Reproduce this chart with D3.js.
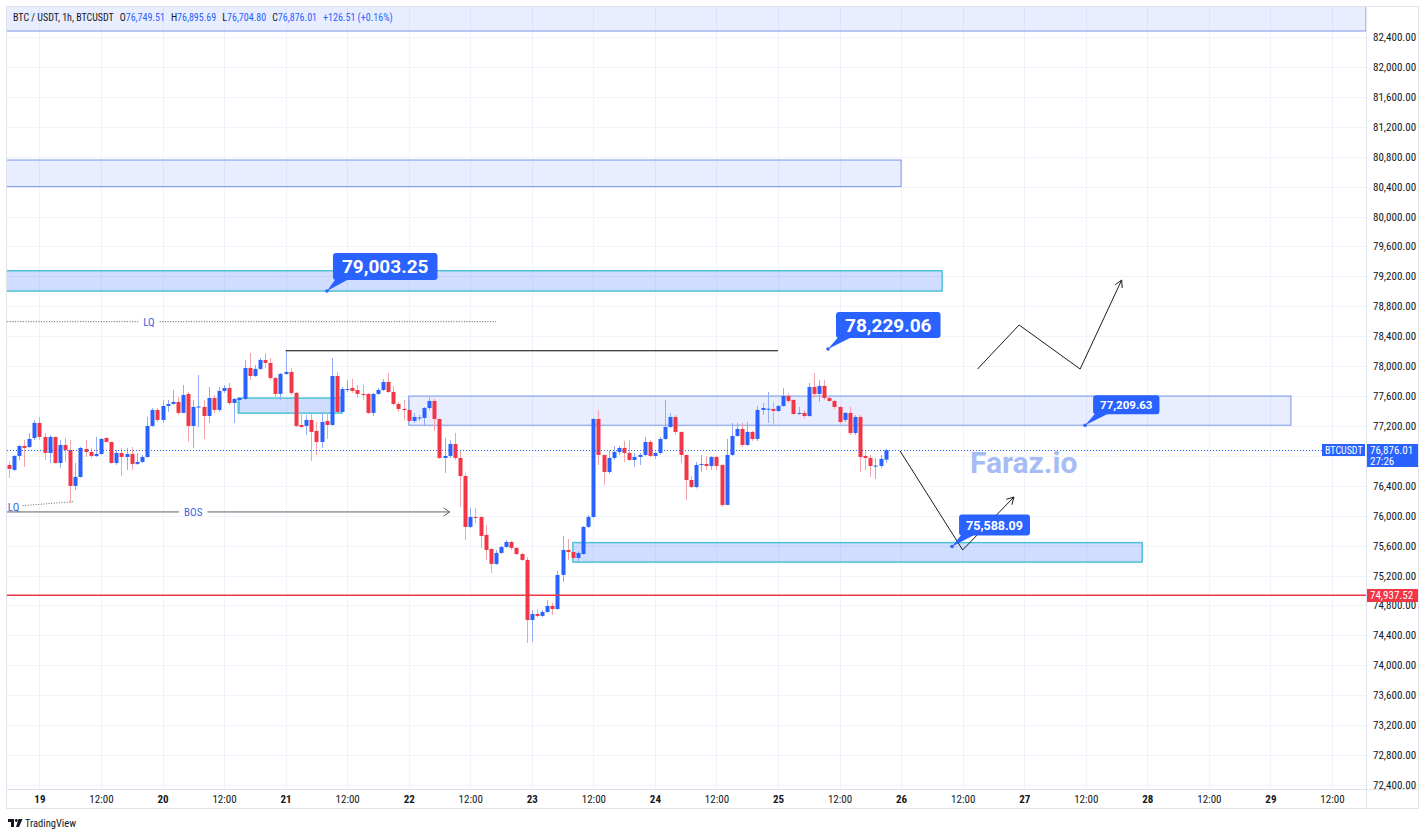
<!DOCTYPE html>
<html>
<head>
<meta charset="utf-8">
<script src="https://cdn.jsdelivr.net/npm/d3@7"></script>
<style>
  body { margin: 0; background: #fff; }
  svg { display: block; }
  text { font-family: "Liberation Sans Narrow", "Roboto Condensed", Roboto, sans-serif; fill: #131722; }
  .bold { font-family: Roboto, "Noto Sans", sans-serif; font-weight: 700; }
</style>
</head>
<body>
<svg id="chart" width="1428" height="837"></svg>
<script>
const PANE = { left: 7, right: 1366, top: 7, bottom: 789 };
const AXIS_RIGHT = 1419;
const AXIS_BOTTOM = 809;

const HOUR = 3600e3;
const at = (day, hour = 0, min = 0) => Date.UTC(2025, 3, day, hour, min);

// visible window
const VIEW_FROM = at(18, 17, 41);
const VIEW_TO = at(29, 18, 38);
const PRICE_MIN = 72346;
const PRICE_MAX = 82801;

// 1h candles, first one opens 18th 18:00
const FIRST_CANDLE = at(18, 18);
const opens = [
  76678, 76612, 76799, 76932, 76919, 77039, 77240, 77053, 76839, 77053, 76705, 76946,
  76879, 76398, 76518, 76892, 76852, 76799, 76825, 77039, 76986, 76705, 76839, 76785,
  76825, 76692, 76719, 76785, 77200, 77414, 77280, 77467, 77494, 77521, 77374, 77628,
  77200, 77454, 77454, 77333, 77574, 77414, 77668, 77708, 77507, 77547, 77561, 77975,
  77868, 77962, 78082, 78042, 77842, 77628, 77895, 77922, 77641, 77213, 77200, 77280,
  77133, 76986, 77267, 77213, 77868, 77387, 77681, 77708, 77681, 77628, 77628, 77374,
  77628, 77681, 77788, 77654, 77494, 77427, 77414, 77267, 77307, 77307, 77440, 77534,
  77293, 76772, 76799, 76959, 76772, 76531, 75850, 75983, 75983, 75743, 75555, 75355,
  75502, 75582, 75649, 75569, 75488, 75408, 74606, 74686, 74660, 74713, 74793, 74753,
  75208, 75542, 75515, 75435, 75488, 75850, 75983, 77293, 76812, 76585, 76772, 76852,
  76906, 76839, 76745, 76785, 76812, 76986, 76799, 76839, 77026, 77186, 77320, 77120,
  76812, 76478, 76384, 76678, 76692, 76665, 76785, 76678, 76144, 76812, 77066, 77160,
  76946, 77120, 77026, 77414, 77427, 77427, 77400, 77467, 77601, 77547, 77360, 77374,
  77333, 77721, 77628, 77735, 77574, 77534, 77454, 77280, 77374, 77106, 77320, 76799,
  76772, 76665, 76665, 76749.51
];
const highs = [
  76719, 76812, 76946, 77013, 77106, 77280, 77320, 77106, 77079, 77058, 77013, 77039,
  77013, 76705, 76919, 77013, 76906, 77053, 77039, 77053, 76990, 76879, 76906, 76906,
  76919, 76839, 76812, 77320, 77440, 77440, 77547, 77547, 77681, 77588, 77748, 77654,
  77547, 77882, 77547, 77721, 77614, 77721, 77748, 77775, 77574, 77588, 78082, 78176,
  78015, 78109, 78176, 78109, 77855, 77908, 78205, 77975, 77654, 77374, 77347, 77360,
  77253, 77387, 77374, 78109, 77922, 77721, 77815, 77828, 77748, 77748, 77641, 77641,
  77708, 77828, 77908, 77735, 77521, 77547, 77547, 77374, 77347, 77454, 77588, 77561,
  77300, 77039, 77013, 77106, 76879, 76572, 76104, 76104, 75990, 75876, 75560, 75542,
  75595, 75676, 75662, 75582, 75502, 75448, 74740, 74753, 74740, 74874, 74834, 75261,
  75729, 75689, 75636, 75529, 75863, 76010, 77307, 77414, 76815, 76879, 76932, 76932,
  76999, 77013, 76839, 76839, 77053, 77013, 76852, 77053, 77547, 77374, 77347, 77125,
  76815, 76531, 76719, 76812, 76799, 76799, 76799, 76685, 77026, 77240, 77240, 77240,
  77253, 77133, 77467, 77507, 77654, 77521, 77481, 77708, 77641, 77561, 77454, 77414,
  77775, 77908, 77815, 77815, 77588, 77547, 77467, 77387, 77454, 77347, 77347, 76879,
  76812, 76772, 76812, 76895.69
];
const lows = [
  76505, 76598, 76745, 76652, 76906, 77013, 77013, 76745, 76705, 76700, 76638, 76719,
  76170, 76344, 76510, 76785, 76772, 76785, 76812, 76980, 76698, 76678, 76531, 76612,
  76612, 76678, 76705, 76772, 77186, 77253, 77240, 77387, 77481, 77347, 77370, 76986,
  76906, 77186, 77026, 77240, 77374, 77387, 77641, 77481, 77240, 77374, 77547, 77815,
  77855, 77948, 77975, 77815, 77547, 77547, 77882, 77614, 77186, 77173, 77079, 76732,
  76812, 76906, 77026, 77200, 77374, 77374, 77654, 77641, 77574, 77547, 77360, 77333,
  77614, 77668, 77641, 77481, 77387, 77280, 77253, 77240, 77267, 77200, 77414, 77133,
  76759, 76572, 76772, 76745, 76117, 75676, 75836, 75903, 75569, 75408, 75235, 75342,
  75488, 75569, 75542, 75475, 75395, 74299, 74312, 74646, 74646, 74700, 74673, 74740,
  75114, 75408, 75425, 75382, 75475, 75836, 75970, 76678, 76411, 76558, 76745, 76812,
  76719, 76732, 76652, 76678, 76799, 76785, 76759, 76812, 77013, 77173, 77079, 76705,
  76210, 76371, 76365, 76585, 76612, 76612, 76612, 76117, 76140, 76799, 77053, 76919,
  76932, 76999, 76999, 77347, 77240, 77200, 77387, 77454, 77507, 77347, 77347, 77307,
  77320, 77574, 77521, 77547, 77521, 77427, 77227, 77253, 77079, 77079, 76585, 76612,
  76518, 76491, 76638, 76704.80
];
const closes = [
  76625, 76799, 76932, 76906, 77026, 77240, 77053, 76839, 77053, 76705, 76946, 76879,
  76398, 76518, 76906, 76852, 76799, 76825, 77026, 76986, 76705, 76839, 76785, 76825,
  76692, 76719, 76785, 77200, 77414, 77280, 77467, 77494, 77521, 77374, 77614, 77200,
  77454, 77460, 77333, 77574, 77414, 77668, 77708, 77507, 77561, 77574, 77975, 77868,
  77962, 78082, 78042, 77842, 77628, 77895, 77922, 77641, 77200, 77186, 77280, 77120,
  76986, 77253, 77213, 77868, 77387, 77694, 77694, 77668, 77628, 77614, 77374, 77628,
  77681, 77788, 77654, 77494, 77427, 77414, 77267, 77320, 77313, 77440, 77534, 77293,
  76772, 76799, 76959, 76772, 76531, 75850, 75983, 75970, 75729, 75542, 75355, 75502,
  75582, 75649, 75569, 75488, 75408, 74606, 74686, 74660, 74713, 74793, 74753, 75208,
  75542, 75515, 75435, 75502, 75850, 75983, 77293, 76812, 76585, 76772, 76852, 76906,
  76839, 76745, 76785, 76812, 76986, 76799, 76839, 77026, 77186, 77320, 77120, 76812,
  76478, 76384, 76678, 76692, 76665, 76785, 76665, 76144, 76812, 77066, 77160, 76946,
  77120, 77026, 77414, 77440, 77430, 77400, 77467, 77601, 77534, 77360, 77374, 77333,
  77721, 77628, 77735, 77574, 77534, 77454, 77253, 77374, 77106, 77320, 76785, 76772,
  76665, 76670, 76759, 76876.01
];

// legend values shown in the header
const LAST_CHANGE = 126.51;
const LAST_CHANGE_PCT = 0.0016;

// axis ticks
const priceTicks = d3.range(72400, 82401, 400);
const timeTicks = d3.utcHour.every(12).range(at(19), at(29, 13));
const HALF_DAY_LABEL = "12:00";

// drawings on the chart
const LAST_PRICE = 76876.01;
const LAST_COUNTDOWN = "27:26";
const RED_LEVEL = 74937.52;
const zones = [
  { from: at(18), to: VIEW_TO, top: 83000, bottom: 82480, kind: "plain" },
  { from: at(18), to: at(26), top: 80755, bottom: 80400, kind: "plain" },
  { from: at(18), to: at(26, 8), top: 79275, bottom: 79003.25, kind: "cyan" },
  { from: at(20, 14, 45), to: at(21, 11), top: 77572, bottom: 77371, kind: "cyan" },
  { from: at(22), to: at(29, 4), top: 77600, bottom: 77209.63, kind: "plain" },
  { from: at(23, 8), to: at(27, 23), top: 75640, bottom: 75380, kind: "cyan" }
];
const callouts = [
  { t: at(21, 8, 4), price: 79003.25, text: "79,003.25", size: 19, dx: 6, dy: -38, h: 27 },
  { t: at(25, 9, 45), price: 78229.06, text: "78,229.06", size: 19, dx: 8, dy: -37, h: 26 },
  { t: at(27, 11, 52), price: 77209.63, text: "77,209.63", size: 11.5, dx: 8, dy: -30, h: 19 },
  { t: at(26, 9, 56), price: 75588.09, text: "75,588.09", size: 12.5, dx: 7, dy: -32, h: 21 }
];
const upperLQ = { from: at(18), to: at(22, 17), price: 78594, label: "LQ", labelAt: at(19, 21, 22) };
const bos = { from: at(18), to: at(22, 8), price: 76050, label: "BOS", labelAt: at(20, 6) };
const lowerLQ = { label: "LQ", labelAt: at(18, 17, 50), labelPrice: 76117,
  line: [[at(18, 20, 44), 76134], [at(19, 6, 37), 76188]] };
const swingHigh = { from: at(21), to: at(25), price: 78205 };
const pathDown = [[at(25, 23, 48), 76865], [at(26, 12), 75542], [at(26, 22), 76250]];
const pathUp = [[at(26, 14, 54), 77961], [at(26, 23), 78550], [at(27, 10, 54), 77961], [at(27, 19), 79151]];
const watermark = { text: "Faraz.io", t: at(26, 23, 54), price: 76571 };

const BLUE = "#2962ff";
const RED = "#f23645";

const svg = d3.select("#chart");
const x = d3.scaleUtc().domain([VIEW_FROM, VIEW_TO]).range([PANE.left, PANE.right]);
const y = d3.scaleLinear().domain([PRICE_MIN, PRICE_MAX]).range([PANE.bottom, PANE.top]);

svg.append("defs").append("clipPath").attr("id", "pane")
  .append("rect")
  .attr("x", PANE.left).attr("y", PANE.top)
  .attr("width", PANE.right - PANE.left).attr("height", PANE.bottom - PANE.top);

// grid
const grid = svg.append("g").attr("stroke", "#f0f3fa").attr("shape-rendering", "crispEdges");
grid.selectAll("line.h").data(priceTicks).join("line").attr("class", "h")
  .attr("x1", PANE.left).attr("x2", PANE.right)
  .attr("y1", (d) => Math.round(y(d)) + 0.5).attr("y2", (d) => Math.round(y(d)) + 0.5);
grid.selectAll("line.v").data(timeTicks).join("line").attr("class", "v")
  .attr("y1", PANE.top).attr("y2", PANE.bottom)
  .attr("x1", (d) => Math.round(x(d)) + 0.5).attr("x2", (d) => Math.round(x(d)) + 0.5);

const pane = svg.append("g").attr("clip-path", "url(#pane)");

// zones
pane.selectAll("rect.zone").data(zones).join("rect").attr("class", "zone")
  .attr("x", (d) => x(d.from)).attr("width", (d) => x(d.to) - x(d.from))
  .attr("y", (d) => y(d.top)).attr("height", (d) => y(d.bottom) - y(d.top))
  .attr("fill", (d) => (d.kind === "cyan" ? "rgba(41,98,255,0.22)" : "rgba(41,98,255,0.11)"))
  .attr("stroke", (d) => (d.kind === "cyan" ? "#4cc4d6" : "#7a98e6"))
  .attr("stroke-width", (d) => (d.kind === "cyan" ? 1.5 : 1));

// candles
const candles = opens.map((o, i) => ({
  t: FIRST_CANDLE + i * HOUR, o, h: highs[i], l: lows[i], c: closes[i]
}));
const isUp = (d) => d.c >= d.o;
const cx = (d) => Math.round(x(d.t));

const candleG = pane.append("g");
candleG.selectAll("line").data(candles).join("line")
  .attr("x1", (d) => cx(d) + 0.5).attr("x2", (d) => cx(d) + 0.5)
  .attr("y1", (d) => y(d.h)).attr("y2", (d) => y(d.l))
  .attr("stroke", (d) => (isUp(d) ? "#91acf8" : "#f5a3ab"))
  .attr("stroke-width", 1);
candleG.selectAll("rect").data(candles).join("rect")
  .attr("x", (d) => cx(d) - 1.5).attr("width", 4)
  .attr("y", (d) => y(Math.max(d.o, d.c)))
  .attr("height", (d) => Math.max(1, Math.abs(y(d.o) - y(d.c))))
  .attr("fill", (d) => (isUp(d) ? BLUE : RED));

// level lines
pane.append("line")
  .attr("x1", x(swingHigh.from)).attr("x2", x(swingHigh.to))
  .attr("y1", y(swingHigh.price)).attr("y2", y(swingHigh.price))
  .attr("stroke", "#000").attr("stroke-width", 1.2);

pane.append("line")
  .attr("x1", PANE.left).attr("x2", PANE.right)
  .attr("y1", y(RED_LEVEL)).attr("y2", y(RED_LEVEL))
  .attr("stroke", RED).attr("stroke-width", 1.5);

pane.append("line")
  .attr("x1", PANE.left).attr("x2", PANE.right - 44)
  .attr("y1", Math.round(y(LAST_PRICE)) + 0.5).attr("y2", Math.round(y(LAST_PRICE)) + 0.5)
  .attr("stroke", BLUE).attr("stroke-dasharray", "1 2");

// labelled lines with a gap for the label
function labelledLine(spec, dashed, arrow) {
  const ly = y(spec.price);
  const tx = x(spec.labelAt);
  const label = pane.append("text")
    .attr("x", tx).attr("y", ly).attr("dy", "0.35em")
    .attr("text-anchor", "middle").attr("font-size", 11)
    .style("fill", "#3f66db").text(spec.label);
  const w = label.node().getComputedTextLength();
  const segs = [[x(spec.from), tx - w / 2 - 5], [tx + w / 2 + 5, x(spec.to)]];
  pane.selectAll(null).data(segs).join("line")
    .attr("x1", (d) => d[0]).attr("x2", (d) => d[1])
    .attr("y1", ly).attr("y2", ly)
    .attr("stroke", dashed ? "#555" : "#5d6068")
    .attr("stroke-dasharray", dashed ? "1 1.6" : null);
  if (arrow) {
    const ex = x(spec.to);
    pane.append("path").attr("d", `M${ex - 6},${ly - 4}L${ex},${ly}L${ex - 6},${ly + 4}`)
      .attr("fill", "none").attr("stroke", "#5d6068");
  }
}
labelledLine(upperLQ, true, false);
labelledLine(bos, false, true);

pane.append("text")
  .attr("x", x(lowerLQ.labelAt)).attr("y", y(lowerLQ.labelPrice)).attr("dy", "0.35em")
  .attr("font-size", 11).style("fill", "#3f66db").text(lowerLQ.label);
pane.append("path")
  .attr("d", d3.line().x((d) => x(d[0])).y((d) => y(d[1]))(lowerLQ.line))
  .attr("fill", "none").attr("stroke", "#666").attr("stroke-dasharray", "1 1.6");

// projection paths
function arrowPath(pts) {
  const line = d3.line().x((d) => x(d[0])).y((d) => y(d[1]));
  pane.append("path").attr("d", line(pts)).attr("fill", "none")
    .attr("stroke", "#1b1b1b").attr("stroke-width", 1);
  const [p0, p1] = pts.slice(-2).map((d) => [x(d[0]), y(d[1])]);
  const ang = Math.atan2(p1[1] - p0[1], p1[0] - p0[0]);
  const head = [-0.5, 0.5].map((s) => [
    p1[0] - 8 * Math.cos(ang + s), p1[1] - 8 * Math.sin(ang + s)
  ]);
  pane.append("path")
    .attr("d", `M${head[0]}L${p1}L${head[1]}`)
    .attr("fill", "none").attr("stroke", "#1b1b1b");
}
arrowPath(pathDown);
arrowPath(pathUp);

// watermark
pane.append("text").attr("class", "bold")
  .attr("x", x(watermark.t)).attr("y", y(watermark.price))
  .attr("text-anchor", "middle").attr("font-size", 30)
  .style("fill", "#a6bcf6").text(watermark.text);

// callouts
callouts.forEach((c) => {
  const ax = x(c.t), ay = y(c.price);
  const g = pane.append("g");
  const txt = g.append("text").attr("class", "bold")
    .attr("font-size", c.size).style("fill", "#fff").text(c.text);
  const w = txt.node().getComputedTextLength();
  const pad = c.size > 14 ? 9 : 7;
  const bx = ax + c.dx, by = ay + c.dy;
  g.insert("path", "text")
    .attr("d", `M${bx + 4},${by + c.h - 3}L${bx + 16},${by + c.h - 1}L${ax},${ay}Z`)
    .attr("fill", BLUE);
  g.insert("rect", "text")
    .attr("x", bx).attr("y", by).attr("width", w + pad * 2).attr("height", c.h)
    .attr("rx", 3).attr("fill", BLUE);
  g.insert("circle", "text").attr("cx", ax).attr("cy", ay).attr("r", 1.8).attr("fill", BLUE);
  txt.attr("x", bx + pad).attr("y", by + c.h / 2).attr("dy", "0.36em");
});

// header
const header = svg.append("text").attr("x", 13).attr("y", 17).attr("dy", "0.35em")
  .attr("font-size", 10);
const ohlc = [["O", opens.at(-1)], ["H", highs.at(-1)], ["L", lows.at(-1)], ["C", closes.at(-1)]];
header.append("tspan").text("BTC / USDT, 1h, BTCUSDT");
ohlc.forEach(([k, v]) => {
  header.append("tspan").attr("dx", 6).text(k);
  header.append("tspan").style("fill", BLUE).text(d3.format(",.2f")(v));
});
header.append("tspan").attr("dx", 6).style("fill", BLUE)
  .text(`${d3.format("+.2f")(LAST_CHANGE)} (${d3.format("+.2%")(LAST_CHANGE_PCT)})`);

// frame
const frame = svg.append("g").attr("fill", "none").attr("stroke", "#e0e3eb").attr("shape-rendering", "crispEdges");
frame.append("rect").attr("x", PANE.left - 0.5).attr("y", PANE.top - 0.5)
  .attr("width", AXIS_RIGHT - PANE.left).attr("height", AXIS_BOTTOM - PANE.top);
frame.append("line").attr("x1", PANE.right + 0.5).attr("x2", PANE.right + 0.5)
  .attr("y1", PANE.top).attr("y2", AXIS_BOTTOM);
frame.append("line").attr("x1", PANE.left).attr("x2", AXIS_RIGHT)
  .attr("y1", PANE.bottom + 0.5).attr("y2", PANE.bottom + 0.5);

// price axis (the label under the last-price badge is hidden, as on the platform)
const lastY = y(LAST_PRICE);
const axisPrices = priceTicks.filter((p) => Math.abs(y(p) - (lastY + 5)) > 14);
const yAxis = svg.append("g").attr("transform", `translate(${PANE.right},0)`)
  .call(d3.axisRight(y).tickValues(axisPrices).tickSize(0).tickPadding(7)
    .tickFormat(d3.format(",.2f")));
yAxis.select(".domain").remove();
yAxis.selectAll("text").attr("font-size", 11).attr("font-family", null).style("fill", "#131722");

// time axis
const xAxis = svg.append("g").attr("transform", `translate(0,${PANE.bottom})`)
  .call(d3.axisBottom(x).tickValues(timeTicks).tickSize(0).tickPadding(6)
    .tickFormat((d) => (d.getUTCHours() === 0 ? d3.utcFormat("%-d")(d) : HALF_DAY_LABEL)));
xAxis.select(".domain").remove();
xAxis.selectAll("text").attr("font-size", 11).attr("font-family", null).style("fill", "#131722")
  .attr("font-weight", (d) => (d.getUTCHours() === 0 ? 700 : 400));

// price axis badges
function badge(bx, by, w, h, color, lines, size) {
  svg.append("rect").attr("x", bx).attr("y", by).attr("width", w).attr("height", h)
    .attr("fill", color);
  lines.forEach((s, i) => {
    svg.append("text").attr("x", bx + 3).attr("y", by + 6 + i * 11).attr("dy", "0.35em")
      .attr("font-size", size).style("fill", "#fff").text(s);
  });
}
badge(PANE.right + 1, Math.round(lastY) - 6, 51, 23, BLUE,
  [d3.format(",.2f")(LAST_PRICE), LAST_COUNTDOWN], 11);
badge(PANE.right - 44, Math.round(lastY) - 6, 43, 12, BLUE, ["BTCUSDT"], 10);
const redY = y(RED_LEVEL);
badge(PANE.right + 1, Math.round(redY) - 6, 51, 13, RED, [d3.format(",.2f")(RED_LEVEL)], 11);

// footer logo
const logo = svg.append("g").attr("fill", "#131722");
logo.append("path").attr("d", "M8,819h6v8h-3v-5h-3z");
logo.append("circle").attr("cx", 16.3).attr("cy", 820.5).attr("r", 1.4);
logo.append("path").attr("d", "M18.5,819h4l-3.5,8h-3z");
svg.append("text").attr("x", 25).attr("y", 823).attr("dy", "0.35em")
  .attr("font-size", 10.5).text("TradingView");
</script>
</body>
</html>
